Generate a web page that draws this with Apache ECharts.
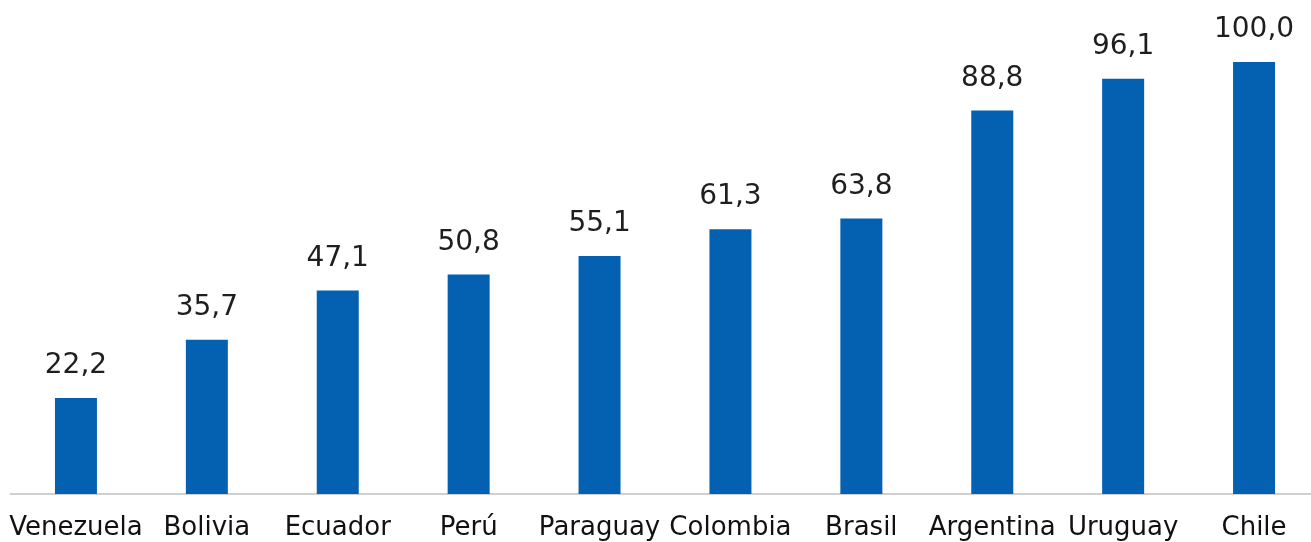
<!DOCTYPE html>
<html>
<head>
<meta charset="utf-8">
<script src="https://cdn.jsdelivr.net/npm/echarts@6/dist/echarts.min.js"></script>
<style>html,body{margin:0;padding:0;background:#fff;overflow:hidden;width:1311px;height:542px;}#c{width:1321px;height:542px;}</style>
</head>
<body>
<div id="c"></div>
<script>
const categories = ["Venezuela","Bolivia","Ecuador","Perú","Paraguay","Colombia","Brasil","Argentina","Uruguay","Chile"];
const values = [22.2,35.7,47.1,50.8,55.1,61.3,63.8,88.8,96.1,100.0];

const chart = echarts.init(document.getElementById('c'), null, {renderer:'canvas'});
chart.setOption({
  animation:false,
  grid:{left:10.5,right:1.5,top:62,bottom:48,containLabel:false},
  xAxis:{type:'category',data:categories,
    axisLine:{lineStyle:{color:'#d0d0d0',width:2}},
    axisTick:{show:false},
    axisLabel:{color:'#111',fontFamily:'DejaVu Sans',fontSize:26,margin:21,interval:0}},
  yAxis:{type:'value',min:0,max:100,show:false,splitLine:{show:false}},
  series:[{type:'bar',data:values,barWidth:42,
    itemStyle:{color:'#0461B1'},
    label:{show:true,position:'top',distance:18,color:'#1e1e1e',fontFamily:'DejaVu Sans',fontSize:28,
      formatter:p=>p.value.toFixed(1).replace('.',',')}}]
});
</script>
</body>
</html>
